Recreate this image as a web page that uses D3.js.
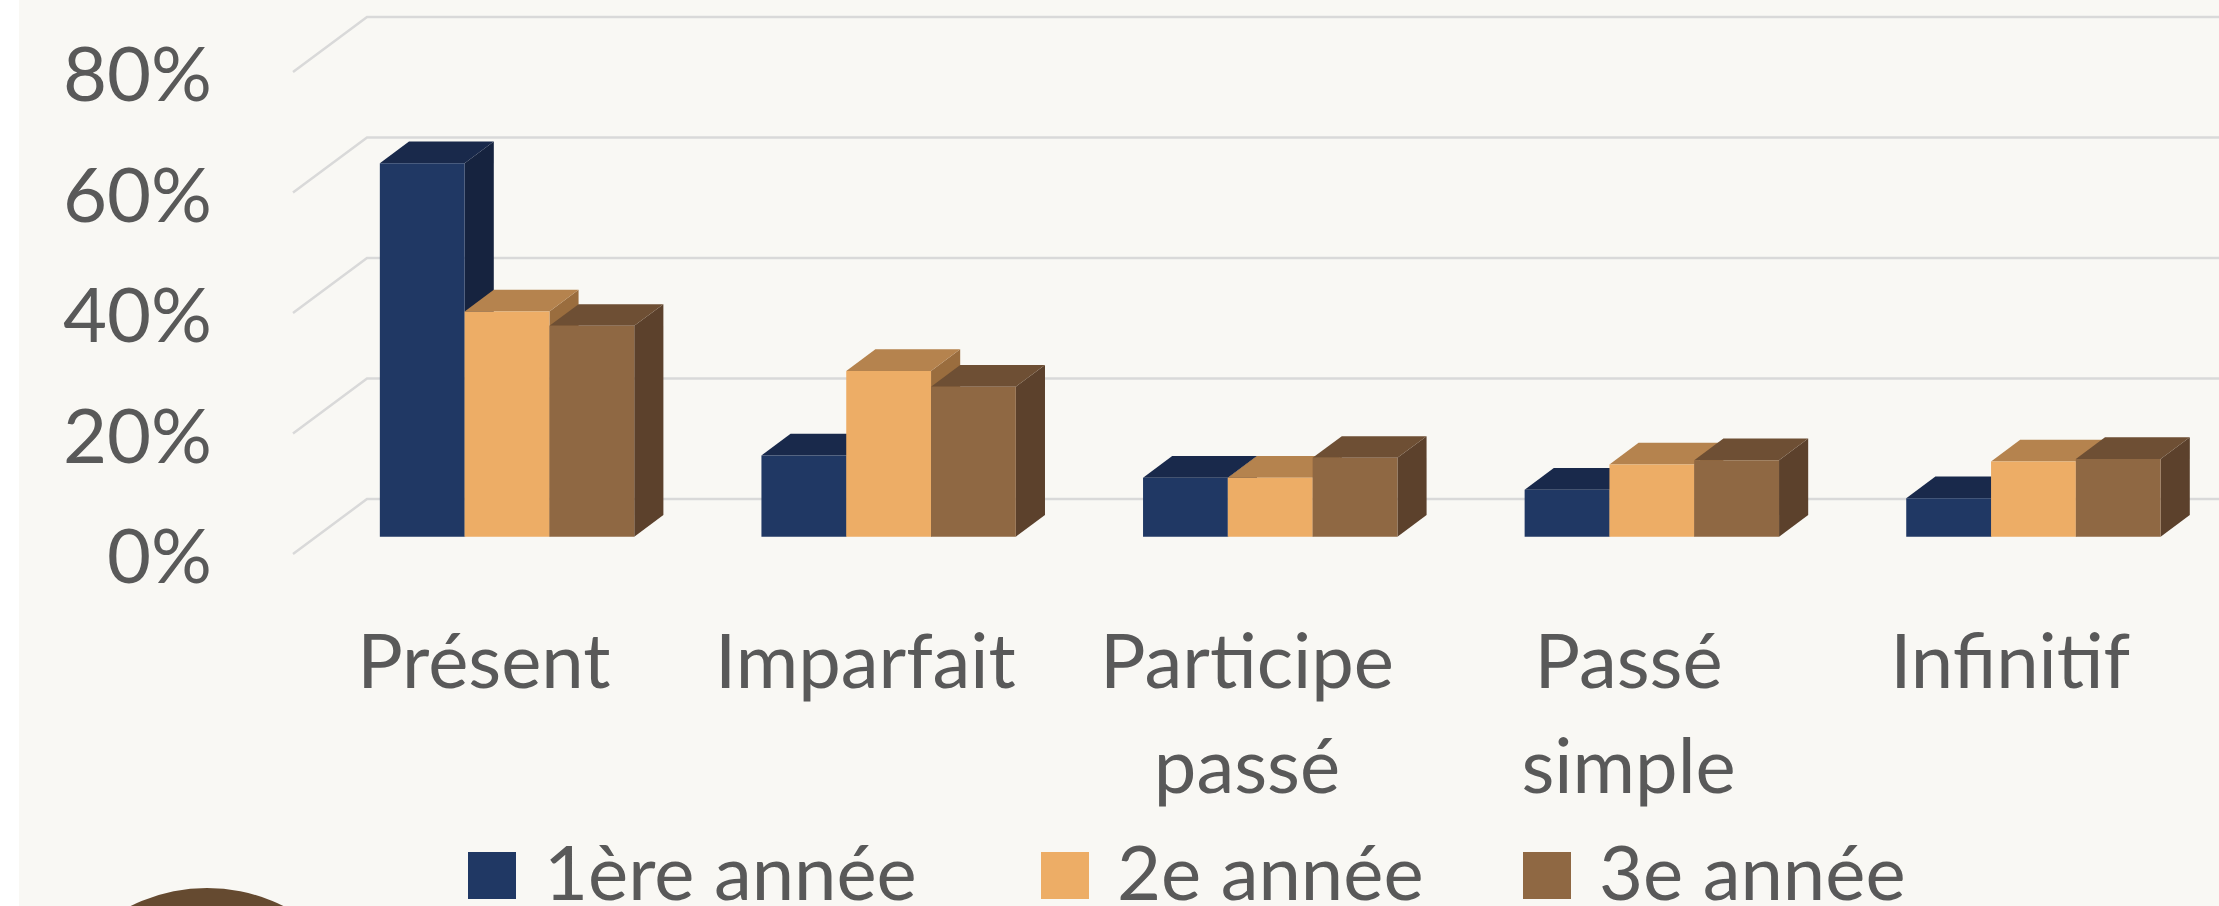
<!DOCTYPE html>
<html lang="fr">
<head>
<meta charset="UTF-8">
<title>Temps verbaux par année</title>
<script src="https://d3js.org/d3.v7.min.js"></script>
<style>
  html, body { margin: 0; padding: 0; background: #ffffff; }
  svg { display: block; }
  text { font-family: Lato, "Open Sans", sans-serif; fill: #595959; }
</style>
</head>
<body>
<div id="chart"></div>
<script>
// data
var categories = [["Présent"], ["Imparfait"], ["Participe", "passé"], ["Passé", "simple"], ["Infinitif"]];
var seriesNames = ["1ère année", "2e année", "3e année"];
var annee1 = [0.62, 0.135, 0.098, 0.078, 0.064];
var annee2 = [0.374, 0.275, 0.098, 0.12, 0.125];
var annee3 = [0.35, 0.249, 0.131, 0.127, 0.129];
var yTicks = [0, 0.2, 0.4, 0.6, 0.8];

var W = 2219, H = 906;
// face colours: front, top, side
var colors = [
  ["#203864", "#19294b", "#16233f"],
  ["#edad66", "#b5834e", "#9a6d3e"],
  ["#8f6843", "#6e4f34", "#5c412c"]
];

var svg = d3.select('#chart').append('svg')
  .attr('width', W)
  .attr('height', H);

svg.append('rect').attr('x', 19).attr('y', 0)
  .attr('width', W - 19).attr('height', H)
  .attr('fill', '#f9f8f4');

// oblique 3d geometry
var x0 = 293, floorY = 554, depthX = 74, depthY = 55;
var barD0 = 0.314, barD1 = 0.708;

var xScale = d3.scaleBand()
  .domain(d3.range(categories.length))
  .range([x0, x0 + 1908])
  .paddingInner(1 / 3)
  .paddingOuter(1 / 6);

var sScale = d3.scaleBand()
  .domain(d3.range(seriesNames.length))
  .range([0, xScale.bandwidth()]);

var yScale = d3.scaleLinear()
  .domain([0, 0.8])
  .range([0, 482]);

function pt(x, d, v) {
  return [x + d * depthX, floorY - d * depthY - yScale(v)];
}

// gridlines: side wall + back wall
var grid = svg.append('g').attr('stroke', '#d9d9d9').attr('stroke-width', 2.5).attr('fill', 'none');
yTicks.forEach(function (v) {
  var a = pt(x0, 0, v), b = pt(x0, 1, v);
  grid.append('path').attr('d', 'M' + a + 'L' + b + 'L' + [W + 10, b[1]]);
});

// y labels
svg.append('g').selectAll('text')
  .data(yTicks)
  .enter()
  .append('text')
  .attr('x', 212)
  .attr('y', function (d) { return pt(x0, 0, d)[1] + 29; })
  .attr('text-anchor', 'end')
  .attr('font-size', 76)
  .text(function (d) { return Math.round(d * 100) + '%'; });

// bars
var values = [annee1, annee2, annee3];
var bars = [];
categories.forEach(function (c, i) {
  values.forEach(function (vals, s) {
    bars.push({ i: i, s: s, v: vals[i] });
  });
});

function poly(p) { return 'M' + p.join('L') + 'Z'; }

var g = svg.append('g');
bars.forEach(function (b) {
  var xa = xScale(b.i) + sScale(b.s), xb = xa + sScale.bandwidth();
  var front = [pt(xa, barD0, 0), pt(xb, barD0, 0), pt(xb, barD0, b.v), pt(xa, barD0, b.v)];
  var top = [pt(xa, barD0, b.v), pt(xb, barD0, b.v), pt(xb, barD1, b.v), pt(xa, barD1, b.v)];
  var side = [pt(xb, barD0, 0), pt(xb, barD1, 0), pt(xb, barD1, b.v), pt(xb, barD0, b.v)];
  g.append('path').attr('d', poly(side)).attr('fill', colors[b.s][2]);
  g.append('path').attr('d', poly(top)).attr('fill', colors[b.s][1]);
  g.append('path').attr('d', poly(front)).attr('fill', colors[b.s][0]);
});

// category labels
var cat = svg.append('g').selectAll('text')
  .data(categories)
  .enter()
  .append('text')
  .attr('text-anchor', 'middle')
  .attr('font-size', 76)
  .attr('x', function (d, i) { return xScale(i) + xScale.bandwidth() / 2; })
  .attr('y', 688);
cat.selectAll('tspan')
  .data(function (d) { return d; })
  .enter()
  .append('tspan')
  .attr('x', function () { return d3.select(this.parentNode).attr('x'); })
  .attr('dy', function (d, k) { return k === 0 ? 0 : 105; })
  .text(function (d) { return d; });

// legend
var legendX = [468, 1041, 1523];
var leg = svg.append('g');
seriesNames.forEach(function (name, s) {
  leg.append('rect')
    .attr('x', legendX[s]).attr('y', 852)
    .attr('width', 48).attr('height', 47)
    .attr('fill', colors[s][0]);
  leg.append('text')
    .attr('x', legendX[s] + 76).attr('y', 900)
    .attr('font-size', 76)
    .text(name);
});

// decorative circle bottom-left
svg.append('circle')
  .attr('cx', 207).attr('cy', 1059).attr('r', 171)
  .attr('fill', '#654a30');
</script>
</body>
</html>
